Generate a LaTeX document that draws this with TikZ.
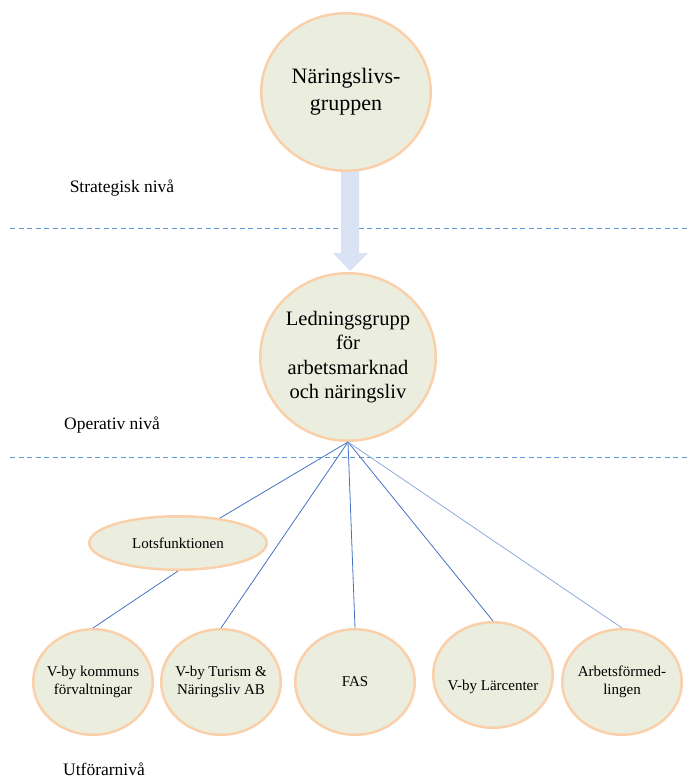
\documentclass[tikz,border=0pt]{standalone}
\usepackage{fontspec}
\setmainfont{Liberation Serif}
\usepackage{xcolor}
\usepackage{tikz}
\usetikzlibrary{shapes.geometric, positioning}

\definecolor{ovalfill}{HTML}{EBEEDE}
\definecolor{ovalborder}{HTML}{F9D0AA}
\definecolor{linkblue}{HTML}{4472C4}
\definecolor{linklight}{HTML}{8FAADC}
\definecolor{dashblue}{HTML}{5B9BD5}
\definecolor{arrowfill}{HTML}{DAE3F3}

\begin{document}
\begin{tikzpicture}[x=1pt, y=-1pt,
    oval/.style={ellipse, draw=ovalborder, fill=ovalfill, line width=2.5pt, align=center, inner sep=0pt},
    small/.style={oval, minimum width=119.5pt, minimum height=105.5pt, inner xsep=-6pt, font=\fontsize{15}{18}\selectfont},
    link/.style={draw=linkblue, line width=0.8pt},
    level/.style={font=\fontsize{17.5}{21}\selectfont},
    sep/.style={draw=dashblue, line width=0.9pt, dash pattern=on 5pt off 3.5pt}]
    \useasboundingbox (0,0) rectangle (690,781);

    % Level separators
    \draw[sep] (10,228) -- (690,228);
    \draw[sep] (10,457) -- (690,457);

    % Block arrow
    \fill[arrowfill] (341,170) -- (359,170) -- (359,253) -- (368,253) -- (350,271)
        -- (333,253) -- (341,253) -- cycle;

    % Groups
    \node[oval, minimum width=169.5pt, minimum height=157.5pt, font=\fontsize{22}{27}\selectfont]
        (ngrupp) at (346,92) {Näringslivs-\\gruppen};
    \node[oval, minimum width=173.5pt, minimum height=167.5pt, font=\fontsize{20.5}{24.5}\selectfont]
        (ledning) at (348,357) {Ledningsgrupp\\för\\arbetsmarknad\\och näringsliv};
    \node[oval, minimum width=177.5pt, minimum height=53.5pt, font=\fontsize{15}{18}\selectfont]
        (lots) at (178,543) {Lotsfunktionen};

    % Performers
    \node[small] (kommun) at (93,682) {V-by kommuns\\förvaltningar};
    \node[small] (turism) at (221,682) {V-by Turism \&\\Näringsliv AB};
    \node[small] (fas) at (355,682) {FAS};
    \node[small, text height=30pt, text depth=0pt] (larc) at (493,675) {V-by Lärcenter};
    \node[small] (arbf) at (622,682) {Arbetsförmed-\\lingen};

    % Links
    \draw[link] (ledning.south) -- (lots);
    \draw[link] (lots.south) -- (kommun.north);
    \draw[link] (ledning.south) -- (turism.north);
    \draw[link] (ledning.south) -- (fas.north);
    \draw[link] (ledning.south) -- (larc.north);
    \draw[link, draw=linklight] (ledning.south) -- (arbf.north);

    % Level labels
    \node[level] (strat) at (122,188) {Strategisk nivå};
    \node[level] (oper) at (112,425) {Operativ nivå};
    \node[level] (utf) at (104,769) {Utförarnivå};
\end{tikzpicture}
\end{document}
